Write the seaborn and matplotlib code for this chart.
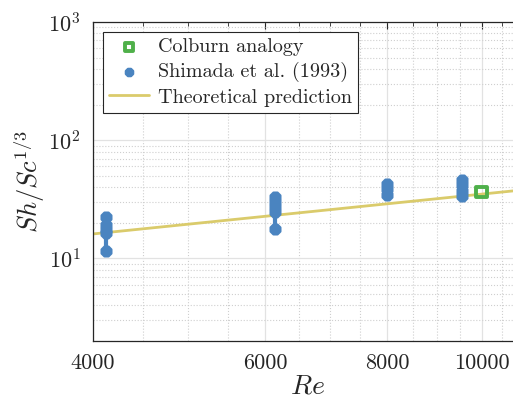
import numpy as np
import pandas as pd
import matplotlib.pyplot as plt
import seaborn as sns
from matplotlib.ticker import FixedLocator, NullFormatter, LogLocator

sns.set_style('white')
plt.rcParams['font.family'] = ['serif']
plt.rcParams['font.serif'] = ['cmr10', 'DejaVu Serif']
plt.rcParams['mathtext.fontset'] = 'cm'
plt.rcParams['axes.unicode_minus'] = False
plt.rcParams['axes.formatter.use_mathtext'] = True

# Shimada et al. (1993) - 측정점 (그룹별 Re 값)
shimada_re = [4120, 4120, 4120, 4120, 4120,
              6140, 6140, 6140, 6140, 6140,
              8000, 8000, 8000,
              9550, 9550, 9550, 9550]
shimada_sh = [22.4, 19.0, 17.5, 16.4, 11.6,
              33.0, 30.1, 27.4, 24.6, 17.6,
              42.7, 38.6, 34.4,
              46.0, 41.8, 37.2, 33.7]
shimada_grp = [1]*5 + [2]*5 + [3]*3 + [4]*4

# Colburn analogy
colburn_re = [10000]
colburn_sh = [36.4]

# Theoretical prediction (양 끝점)
theory_re = [4000, 11000]
theory_sh = [16.1, 37.9]

xmajor = [4000, 6000, 8000, 10000]
xminor = [4500, 5000, 5500, 6500, 7000, 7500, 8500, 9000, 9500, 10500]

c_blue = '#4a84c0'
c_green = '#4fb04a'
c_yellow = '#dacb6b'

df = pd.DataFrame({'Re': shimada_re, 'Sh': shimada_sh, 'grp': shimada_grp})
cdf = pd.DataFrame({'Re': colburn_re, 'Sh': colburn_sh})
tdf = pd.DataFrame({'Re': theory_re, 'Sh': theory_sh})

fig = plt.figure(figsize=(5.13, 4.07), dpi=100)
ax = fig.add_axes([93/513, 66/407, 429/513, 319/407])
ax.set_xscale('log')
ax.set_yscale('log')

# 세로 연결선
sns.lineplot(data=df, x='Re', y='Sh', units='grp', estimator=None, sort=False,
             color=c_blue, linewidth=3, ax=ax, legend=False)
sns.scatterplot(data=cdf, x='Re', y='Sh', marker='s', s=55, facecolor='none',
                edgecolor=c_green, linewidth=2.8, ax=ax, label='Colburn analogy', zorder=4)
sns.scatterplot(data=df, x='Re', y='Sh', marker='8', s=60, color=c_blue,
                edgecolor=c_blue, linewidth=1.5, ax=ax, label='Shimada et al. (1993)', zorder=3)
sns.lineplot(data=tdf, x='Re', y='Sh', color=c_yellow, linewidth=2, ax=ax,
             label='Theoretical prediction', zorder=2)

ax.set_xlim(4000, 11000)
ax.set_ylim(2, 1000)

ax.xaxis.set_major_locator(FixedLocator(xmajor))
ax.xaxis.set_minor_locator(FixedLocator(xminor))
ax.xaxis.set_minor_formatter(NullFormatter())
ax.set_xticklabels([str(v) for v in xmajor])
ax.yaxis.set_major_locator(LogLocator(base=10, numticks=10))
ax.yaxis.set_minor_locator(LogLocator(base=10, subs=np.arange(2, 10), numticks=10))
ax.yaxis.set_minor_formatter(NullFormatter())

ax.grid(which='major', color='#e2e2e2', linestyle='-', linewidth=0.9)
ax.grid(which='minor', color='#cfcfcf', linestyle=':', linewidth=0.8)
ax.set_axisbelow(True)
ax.tick_params(which='both', direction='in', top=True, right=True, labelsize=16,
               color='#262626', labelcolor='#262626')
ax.tick_params(which='major', length=5, width=0.8, pad=9)
ax.tick_params(which='minor', length=3, width=0.6)
for s in ax.spines.values():
    s.set_color('#262626')
    s.set_linewidth(0.9)

ax.set_xlabel('$Re$', fontsize=20, color='#262626', labelpad=0)
ax.set_ylabel('$Sh/Sc^{1/3}$', fontsize=19, color='#262626', labelpad=1)

leg = ax.legend(loc='upper left', fontsize=14.5, frameon=True, fancybox=False,
                edgecolor='#262626', framealpha=1, borderaxespad=0.5, markerscale=0.75,
                handlelength=2.0, handletextpad=0.45, borderpad=0.3, labelspacing=0.3)
leg.get_frame().set_linewidth(0.8)

fig.savefig('out.png', dpi=100)
